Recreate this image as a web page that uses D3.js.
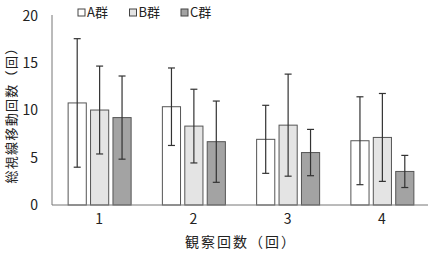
<!DOCTYPE html>
<html lang="ja">
<head>
<meta charset="UTF-8">
<title>観察回数</title>
<script src="https://cdn.jsdelivr.net/npm/d3@7"></script>
<style>
  body { margin: 0; background: #fff; }
  text { font-family: "Noto Sans CJK JP", sans-serif; fill: #222; }
</style>
</head>
<body>
<svg id="chart" width="428" height="253"></svg>
<script>
// data
var rounds = ["1", "2", "3", "4"];
var groups = ["A群", "B群", "C群"];
var meanA = [10.8, 10.4, 6.95, 6.8];
var meanB = [10.05, 8.35, 8.45, 7.15];
var meanC = [9.25, 6.7, 5.55, 3.55];
var sdA = [6.8, 4.1, 3.6, 4.65];
var sdB = [4.65, 3.9, 5.4, 4.65];
var sdC = [4.4, 4.3, 2.45, 1.7];
var yTicks = [0, 5, 10, 15, 20];
var fills = ["#ffffff", "#e4e4e4", "#a3a3a3"];

var rows = [];
rounds.forEach(function (r, i) {
    rows.push({round: r, group: groups[0], mean: meanA[i], sd: sdA[i]});
    rows.push({round: r, group: groups[1], mean: meanB[i], sd: sdB[i]});
    rows.push({round: r, group: groups[2], mean: meanC[i], sd: sdC[i]});
});

var svg = d3.select("#chart");
var plotLeft = 52, plotRight = 429, plotTop = 16, plotBottom = 205;

var x = d3.scaleBand().domain(rounds).range([plotLeft, plotRight]);
var xInner = d3.scaleBand().domain(groups).range([0, 63]).paddingInner(0.19);
var y = d3.scaleLinear().domain([0, 20]).range([plotBottom, plotTop]);
var color = d3.scaleOrdinal().domain(groups).range(fills);

function barX(d) {
    return x(d.round) + x.bandwidth() / 2 - 31 + xInner(d.group);
}

// axes lines
svg.append("line")
    .attr("x1", plotLeft).attr("x2", plotLeft)
    .attr("y1", y(20) - 1).attr("y2", plotBottom)
    .attr("stroke", "#777").attr("stroke-width", 1);

svg.selectAll(".ytick")
    .data(yTicks)
    .enter()
    .append("text")
    .attr("class", "ytick")
    .attr("x", 38)
    .attr("y", function (d) { return y(d); })
    .attr("dy", "0.35em")
    .attr("text-anchor", "end")
    .attr("font-size", 14)
    .text(function (d) { return d; });

// bars
svg.selectAll(".bar")
    .data(rows)
    .enter()
    .append("rect")
    .attr("class", "bar")
    .attr("x", function (d) { return barX(d); })
    .attr("width", xInner.bandwidth())
    .attr("y", function (d) { return y(d.mean); })
    .attr("height", function (d) { return plotBottom - y(d.mean); })
    .attr("fill", function (d) { return color(d.group); })
    .attr("stroke", "#555")
    .attr("stroke-width", 1);

// error bars
var err = svg.selectAll(".err")
    .data(rows)
    .enter()
    .append("g")
    .attr("class", "err")
    .attr("stroke", "#333")
    .attr("stroke-width", 1.2);

err.append("line")
    .attr("x1", function (d) { return barX(d) + xInner.bandwidth() / 2; })
    .attr("x2", function (d) { return barX(d) + xInner.bandwidth() / 2; })
    .attr("y1", function (d) { return y(d.mean + d.sd); })
    .attr("y2", function (d) { return y(d.mean - d.sd); });

[1, -1].forEach(function (s) {
    err.append("line")
        .attr("x1", function (d) { return barX(d) + xInner.bandwidth() / 2 - 3.5; })
        .attr("x2", function (d) { return barX(d) + xInner.bandwidth() / 2 + 3.5; })
        .attr("y1", function (d) { return y(d.mean + s * d.sd); })
        .attr("y2", function (d) { return y(d.mean + s * d.sd); });
});

svg.append("line")
    .attr("x1", plotLeft).attr("x2", 428)
    .attr("y1", plotBottom).attr("y2", plotBottom)
    .attr("stroke", "#777").attr("stroke-width", 1);

// x tick labels
svg.selectAll(".xtick")
    .data(rounds)
    .enter()
    .append("text")
    .attr("class", "xtick")
    .attr("x", function (d) { return x(d) + x.bandwidth() / 2; })
    .attr("y", 224)
    .attr("text-anchor", "middle")
    .attr("font-size", 14)
    .text(function (d) { return d; });

// axis titles
svg.append("text")
    .attr("x", 241)
    .attr("y", 247)
    .attr("text-anchor", "middle")
    .attr("font-size", 14)
    .attr("letter-spacing", 2)
    .text("観察回数（回）");

svg.append("text")
    .attr("transform", "translate(10,112) rotate(-90)")
    .attr("text-anchor", "middle")
    .attr("dominant-baseline", "central")
    .attr("font-size", 13)
    .attr("letter-spacing", 1.3)
    .text("総視線移動回数（回）");

// legend
var legend = svg.selectAll(".legend")
    .data(groups)
    .enter()
    .append("g")
    .attr("class", "legend")
    .attr("transform", function (d, i) { return "translate(" + (78 + i * 51.5) + ",0)"; });

legend.append("rect")
    .attr("x", 0).attr("y", 9)
    .attr("width", 7).attr("height", 7)
    .attr("fill", function (d) { return color(d); })
    .attr("stroke", "#444");

legend.append("text")
    .attr("x", 9)
    .attr("y", 17)
    .attr("font-size", 13)
    .text(function (d) { return d; });
</script>
</body>
</html>
